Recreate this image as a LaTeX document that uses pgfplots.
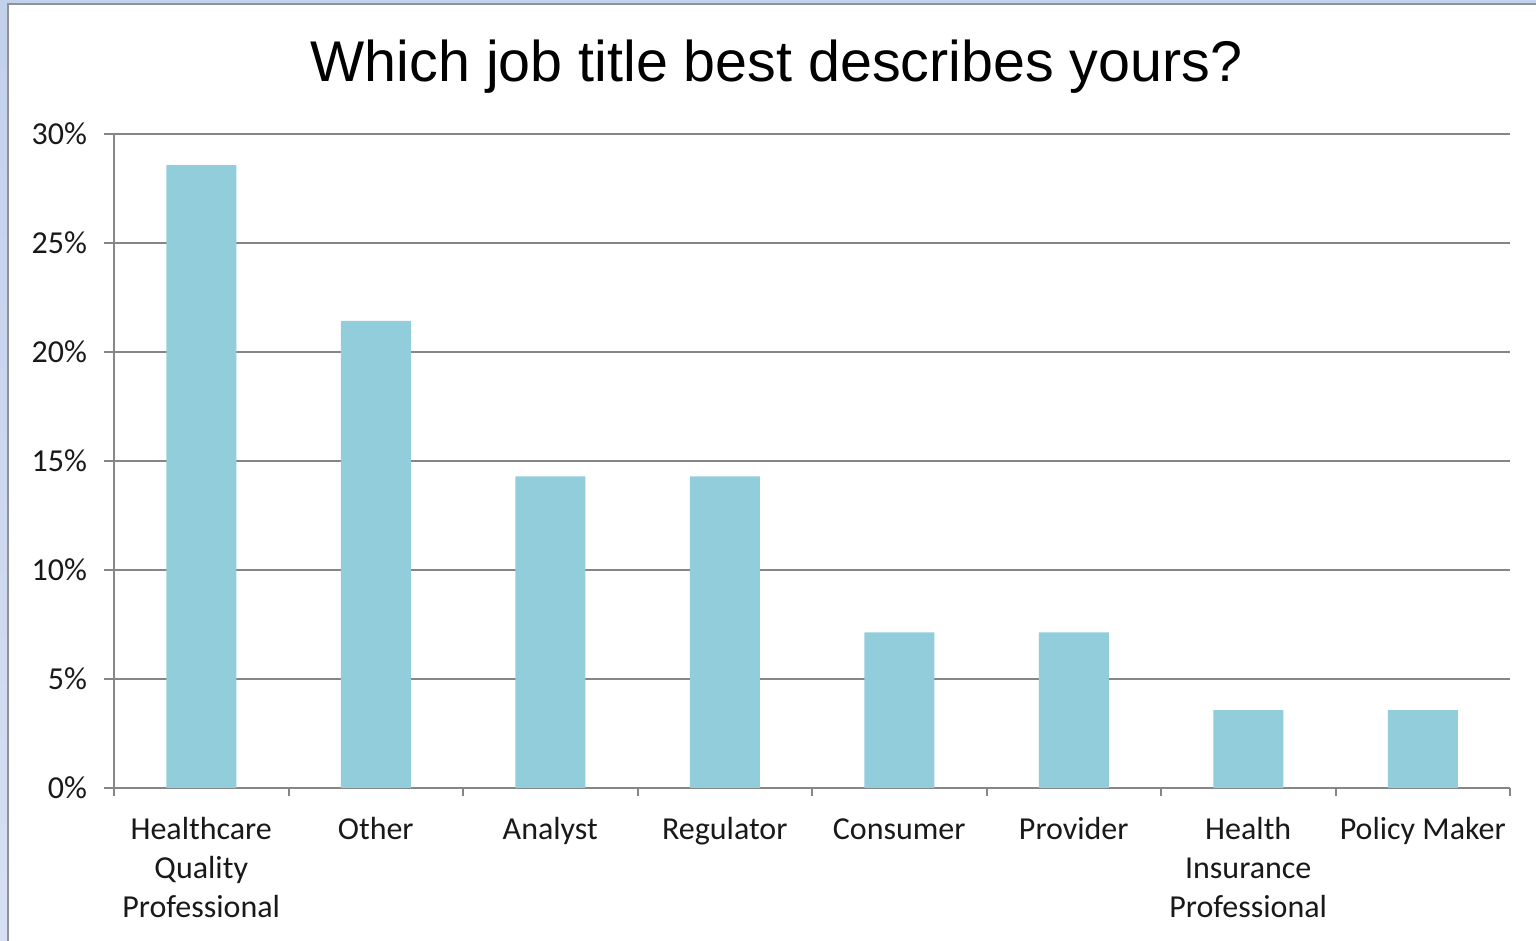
\documentclass[border=0pt]{standalone}
\usepackage{fontspec}
\setmainfont{Carlito}
\newfontfamily\titlefont{Liberation Sans}
\usepackage{pgfplots}
\pgfplotsset{compat=1.18}
\definecolor{barblue}{RGB}{146,205,220}
\definecolor{gridgray}{RGB}{134,134,134}
\definecolor{frameblue}{RGB}{194,209,236}
\definecolor{frameblueb}{RGB}{214,223,243}
\begin{document}
\begin{tikzpicture}[x=0.5pt,y=0.5pt]
\shade[top color=frameblue, bottom color=frameblueb] (0,0) rectangle (1536,941);
\fill[white] (8,0) rectangle (1536,937);
\draw[gridgray!90, line width=1pt] (8,0) -- (8,937) -- (1536,937);
\begin{axis}[
  at={(57pt,76.5pt)}, anchor=south west,
  scale only axis, width=698pt, height=327pt,
  xmin=-0.5, xmax=7.5, ymin=0, ymax=30,
  axis x line*=bottom, axis y line*=left,
  axis line style={gridgray, line width=1pt, -},
  ytick={0,5,...,30},
  yticklabel={\pgfmathprintnumber{\tick}\%},
  ymajorgrids, grid style={gridgray, line width=1pt},
  tick align=outside, major tick length=5pt, minor tick length=4pt,
  tick style={gridgray, line width=1pt},
  xtick={0,...,7},
  xticklabels={{\strut Healthcare\\Quality\\Professional},\strut Other,\strut Analyst,\strut Regulator,\strut Consumer,\strut Provider,{\strut Health\\Insurance\\Professional},\strut Policy Maker},
  every major x tick/.append style={draw=none},
  minor xtick={-0.5,0.5,...,7.5},
  xticklabel style={align=center, font=\fontsize{16}{19.5}\selectfont, text=black!90, yshift=-3.5pt},
  yticklabel style={font=\fontsize{16}{19.5}\selectfont, text=black!90, xshift=-5pt},
  /pgf/number format/assume math mode=true,
  ybar, bar width=35pt,
]
\addplot[fill=barblue, draw=none] coordinates {(0,28.57) (1,21.43) (2,14.29) (3,14.29) (4,7.14) (5,7.14) (6,3.57) (7,3.57)};
\end{axis}
\node[font=\titlefont\fontsize{28.7}{35}\selectfont, anchor=base] at (776.5,859) {Which job title best describes yours?};
\pgfresetboundingbox
\useasboundingbox (0,0) rectangle (1536,941);
\end{tikzpicture}
\end{document}
